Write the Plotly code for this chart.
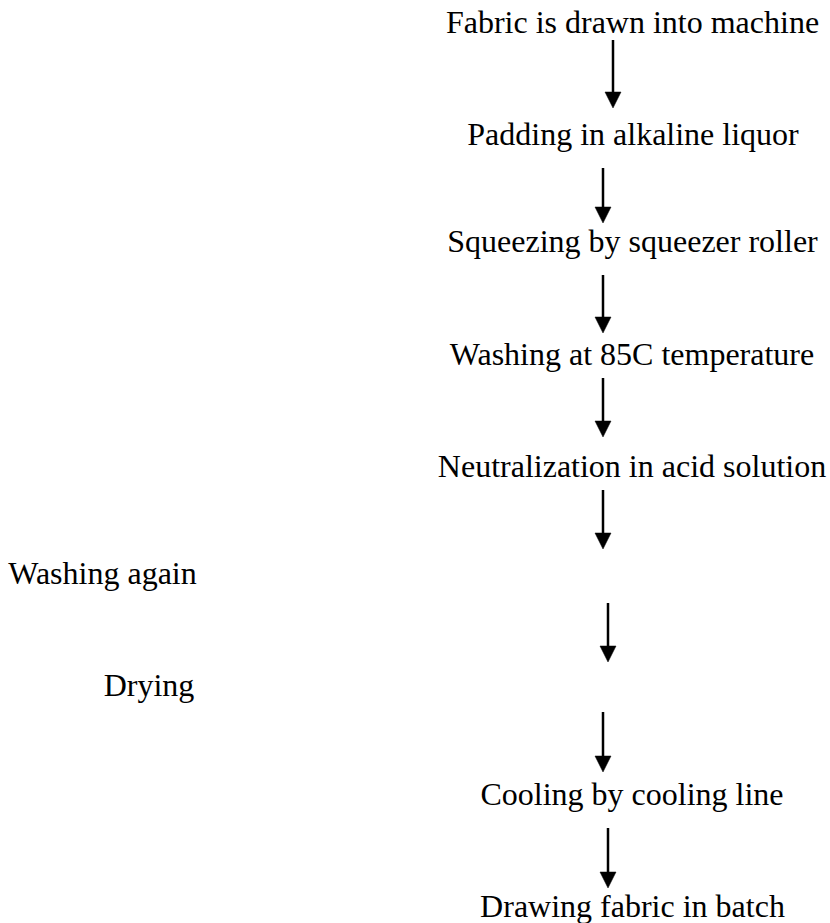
import plotly.graph_objects as go

# Flow steps (text content)
steps = [
    "Fabric is drawn into machine",
    "Padding in alkaline liquor",
    "Squeezing by squeezer roller",
    "Washing at 85C temperature",
    "Neutralization in acid solution",
    "Washing again",
    "Drying",
    "Cooling by cooling line",
    "Drawing fabric in batch",
]
# Label placement (pixel canvas coordinates)
step_x = [632.5, 633, 632.5, 632, 632, 102.5, 149, 632, 632.5]
step_y = [25, 137, 244, 357, 469, 576, 688, 797, 909]

# Arrows (pixel canvas coordinates)
arrow_x = [613, 603, 603, 603, 603, 608, 603, 608]
arrow_top = [40, 168, 275, 378, 490, 603, 712, 828]
arrow_tip = [108, 223, 333, 437, 549, 662, 772, 888]

W, H = 830, 923
HEAD_H, HEAD_W = 16, 16

fig = go.Figure()
fig.add_trace(go.Scatter(
    x=step_x, y=step_y, mode="text", text=steps,
    textposition="middle center",
    textfont=dict(family="Liberation Serif, Times New Roman, serif", size=32, color="black"),
    hoverinfo="skip", showlegend=False, cliponaxis=False,
))

shapes = []
for x, t, tip in zip(arrow_x, arrow_top, arrow_tip):
    shapes.append(dict(type="line", xref="x", yref="y", x0=x, x1=x, y0=t, y1=tip - HEAD_H + 1,
                       line=dict(color="black", width=2.5)))
    shapes.append(dict(type="path", xref="x", yref="y",
                       path=f"M {x - HEAD_W/2},{tip - HEAD_H} L {x + HEAD_W/2},{tip - HEAD_H} L {x},{tip} Z",
                       fillcolor="black", line=dict(color="black", width=0.5)))

fig.update_layout(
    width=W, height=H,
    margin=dict(l=0, r=0, t=0, b=0),
    paper_bgcolor="white", plot_bgcolor="white",
    xaxis=dict(range=[0, W], visible=False, fixedrange=True),
    yaxis=dict(range=[H, 0], visible=False, fixedrange=True),
    shapes=shapes,
)
fig.write_html(
    "out.html",
    config={"displayModeBar": False},
    post_script=(
        "document.body.style.margin='0';"
        "document.body.style.padding='0';"
        "document.documentElement.style.overflow='hidden';"
        "document.body.style.overflow='hidden';"
    ),
)
